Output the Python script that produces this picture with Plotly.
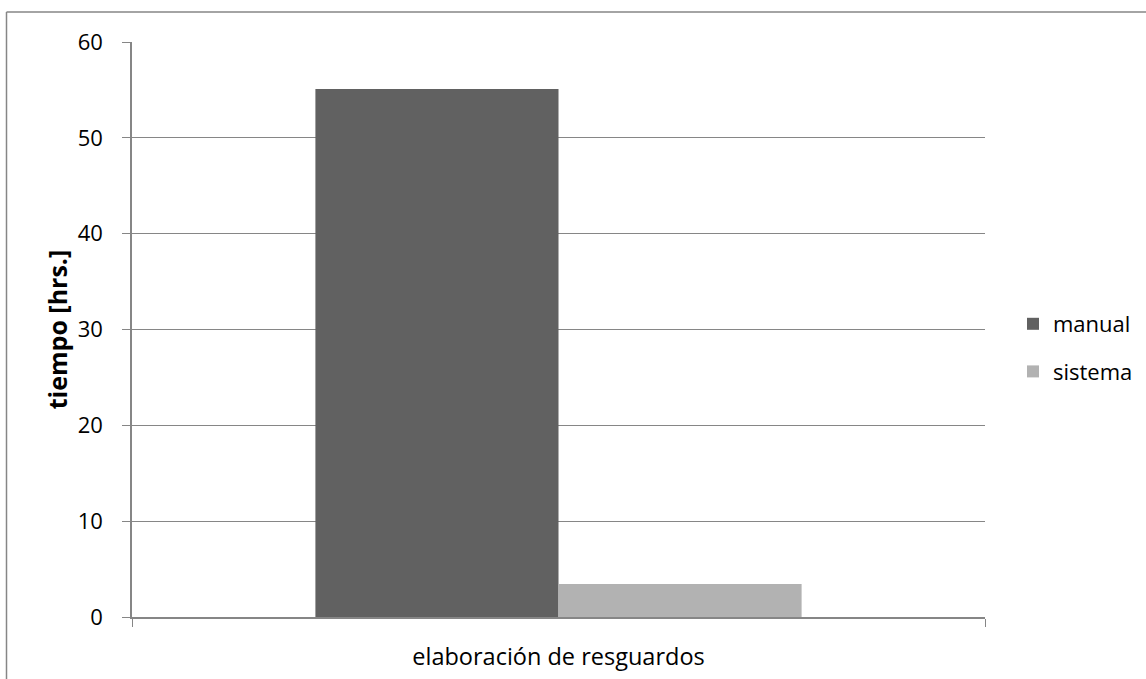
import plotly.graph_objects as go

categories = ["elaboración de resguardos"]
manual = [55.1]
sistema = [3.45]
series_names = ["manual", "sistema"]
y_ticks = [0, 10, 20, 30, 40, 50, 60]

W, H = 1146, 679
L, R, T, B = 132, 161, 42, 62
pw, ph = W - L - R, H - T - B

fig = go.Figure()
fig.add_trace(go.Bar(x=categories, y=manual, name=series_names[0], legendgroup="a",
                     marker=dict(color="#616161", line=dict(width=0))))
fig.add_trace(go.Bar(x=categories, y=sistema, name=series_names[1], legendgroup="b",
                     marker=dict(color="#b2b2b2", line=dict(width=0))))

font_family = "Open Sans, Liberation Sans, sans-serif"
FS = 22

fig.update_layout(
    width=W, height=H,
    margin=dict(l=L, r=R, t=T, b=B, autoexpand=False),
    paper_bgcolor="white", plot_bgcolor="white",
    barmode="group", bargap=0.43, bargroupgap=0,
    font=dict(family=font_family, size=FS, color="black"),
    showlegend=True,
    legend=dict(x=(1013 - L) / pw, y=(617 - 348) / ph, xanchor="left", yanchor="middle",
                font=dict(size=FS), traceorder="grouped", tracegroupgap=16, itemwidth=30,
                bgcolor="rgba(0,0,0,0)"),
    xaxis=dict(type="category", range=[-0.5, 0.5], showgrid=False,
               showline=True, linecolor="#868686", linewidth=1.5,
               ticks="outside", tickson="boundaries", ticklen=8, tickcolor="#868686",
               tickfont=dict(size=23.5), ticklabelstandoff=18),
    yaxis=dict(range=[0, 60], tickvals=y_ticks, showgrid=True, gridcolor="#868686", gridwidth=1,
               showline=True, linecolor="#868686", linewidth=1.5, zeroline=False,
               ticks="outside", ticklen=8, tickcolor="#868686",
               tickfont=dict(size=FS), ticklabelstandoff=15,
               title=dict(text="<b>tiempo [hrs.]</b>", font=dict(size=25), standoff=3)),
)

# outer chart border (left and top edges visible)
bx0 = (6.5 - L) / pw
by1 = 1 + (T - 12) / ph
fig.add_shape(type="line", xref="paper", yref="paper", x0=bx0, x1=bx0, y0=by1, y1=-0.3,
              line=dict(color="#868686", width=1.5))
fig.add_shape(type="line", xref="paper", yref="paper", x0=bx0, x1=1.5, y0=by1, y1=by1,
              line=dict(color="#868686", width=1.5))

fig.write_html("out.html", config={"displayModeBar": False},
               post_script="document.body.style.margin='0';document.body.style.overflow='hidden';")
